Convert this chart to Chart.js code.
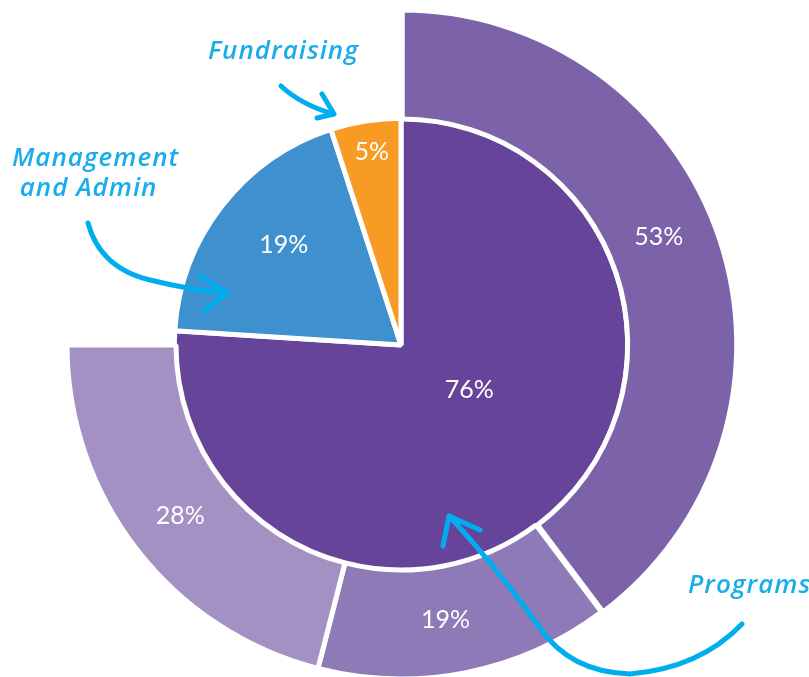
<!DOCTYPE html>
<html>
<head>
<meta charset="utf-8">
<script src="https://cdn.jsdelivr.net/npm/chart.js@4.4.0/dist/chart.umd.min.js"></script>
<style>
    html, body { margin: 0; padding: 0; background: #fff; overflow: hidden; }
    #wrap { position: relative; width: 809px; height: 700px; }
    .note {
        position: absolute;
        color: #1badea;
        font-family: "Open Sans", sans-serif;
        font-style: italic;
        font-weight: 600;
        font-size: 26px;
        line-height: 30px;
        letter-spacing: 1px;
        white-space: nowrap;
    }
    svg { position: absolute; left: 0; top: 0; pointer-events: none; }
</style>
</head>
<body>
<div id="wrap">
    <canvas id="expenseChart"></canvas>
    <svg width="809" height="700">
        <g fill="none" stroke="#00aeef" stroke-width="5" stroke-linecap="round" stroke-linejoin="round">
            <!-- Fundraising arrow -->
            <path d="M281 86 Q300 104 333 114"/>
            <path d="M322 94 L334 114 L317 118"/>
            <!-- Management arrow -->
            <path d="M88 223 Q100 268 150 280 Q190 290 227 293"/>
            <path d="M200 276 L227 293 L204 311"/>
            <!-- Programs arrow -->
            <path d="M742 624 Q700 668 630 674 Q570 672 540 628 Q495 565 449 516"/>
            <path d="M443 546 L449 516 L480 530"/>
        </g>
    </svg>
    <div class="note" style="left:208px; top:34px;">Fundraising</div>
    <div class="note" style="left:12px; top:141px;">Management<br>&nbsp;and Admin</div>
    <div class="note" style="left:688px; top:568px;">Programs</div>
</div>
<script>
// Inner pie: share of total spending
const spendCategories = ['Programs', 'Management and Admin', 'Fundraising'];
const spendValues = [76, 19, 5];

// Outer ring: breakdown of the Programs share
const programParts = ['Program A', 'Program B', 'Program C'];
const programValues = [53, 19, 28];

const innerColors = ['#66449a', '#3f90cf', '#f79b25'];
const outerColors = ['#7b62a9', '#8e7ab6', '#a391c4'];

// where each value label sits inside its slice: [fraction of angle, fraction of radius]
const outerLabelPos = [[0.47, 0.5], [0.54, 0.49], [0.5, 0.5]];
const innerLabelPos = [[0.45, 0.36], [0.54, 0.68], [0.52, 0.86]];

const valueLabels = {
    id: 'valueLabels',
    afterDatasetsDraw(chart) {
        const ctx = chart.ctx;
        ctx.save();
        ctx.fillStyle = '#ffffff';
        ctx.font = '25px Lato, sans-serif';
        ctx.textAlign = 'center';
        ctx.textBaseline = 'middle';
        chart.data.datasets.forEach((ds, di) => {
            const pos = di === 0 ? outerLabelPos : innerLabelPos;
            chart.getDatasetMeta(di).data.forEach((arc, i) => {
                const p = arc.getProps(['x', 'y', 'startAngle', 'endAngle', 'innerRadius', 'outerRadius']);
                const a = p.startAngle + (p.endAngle - p.startAngle) * pos[i][0];
                const r = p.innerRadius + (p.outerRadius - p.innerRadius) * pos[i][1];
                ctx.fillText(ds.data[i] + '%', p.x + Math.cos(a) * r, p.y + Math.sin(a) * r);
            });
        });
        ctx.restore();
    }
};

document.addEventListener('DOMContentLoaded', function() {
    const ctx = document.getElementById('expenseChart');
    new Chart(ctx, {
        type: 'doughnut',
        data: {
            labels: spendCategories,
            datasets: [{
                label: 'Programs breakdown',
                data: programValues,
                backgroundColor: outerColors,
                borderColor: '#ffffff',
                borderWidth: 5,
                circumference: 270,
                rotation: 0,
                weight: 109,
                offset: [5, 0, 0],
                hoverOffset: 5
            }, {
                label: 'Spending',
                data: spendValues,
                backgroundColor: innerColors,
                borderColor: '#ffffff',
                borderWidth: 5,
                weight: 225,
                hoverOffset: 5
            }]
        },
        options: {
            responsive: true,
            maintainAspectRatio: false,
            animation: false,
            cutout: 0,
            layout: {
                padding: { top: 6, bottom: 16, left: 62, right: 69 }
            },
            plugins: {
                legend: { display: false },
                tooltip: { enabled: false }
            }
        },
        plugins: [valueLabels]
    });
});
</script>
</body>
</html>
